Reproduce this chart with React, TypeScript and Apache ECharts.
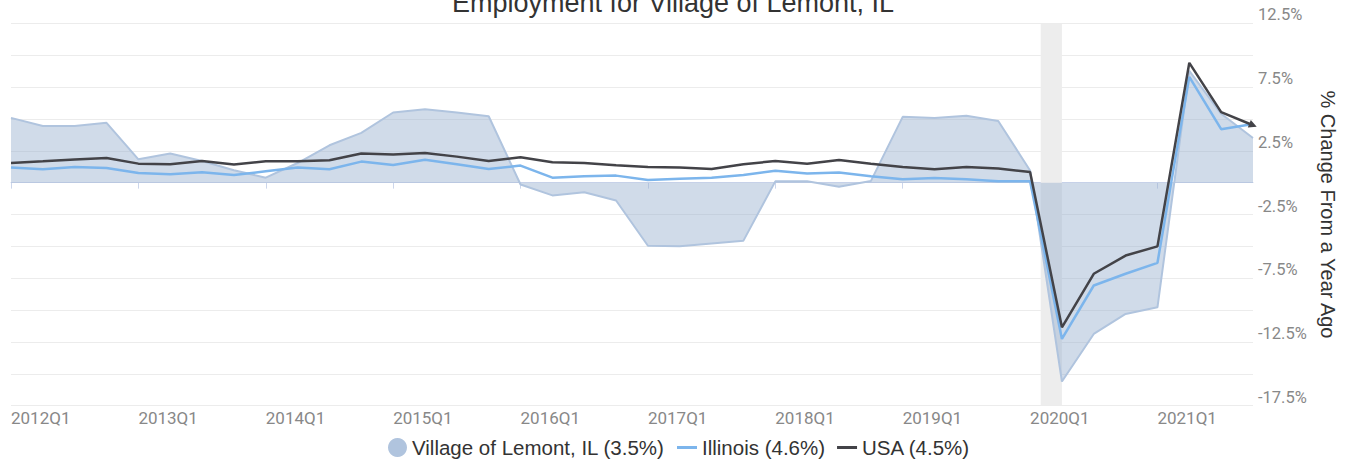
import React, { useEffect, useRef } from 'react';
import * as echarts from 'echarts';

const quarters: string[] = [
  '2012Q1', '2012Q2', '2012Q3', '2012Q4',
  '2013Q1', '2013Q2', '2013Q3', '2013Q4',
  '2014Q1', '2014Q2', '2014Q3', '2014Q4',
  '2015Q1', '2015Q2', '2015Q3', '2015Q4',
  '2016Q1', '2016Q2', '2016Q3', '2016Q4',
  '2017Q1', '2017Q2', '2017Q3', '2017Q4',
  '2018Q1', '2018Q2', '2018Q3', '2018Q4',
  '2019Q1', '2019Q2', '2019Q3', '2019Q4',
  '2020Q1', '2020Q2', '2020Q3', '2020Q4',
  '2021Q1', '2021Q2', '2021Q3', '2021Q4',
];

const lemont: number[] = [
  5.08, 4.45, 4.45, 4.69,
  1.83, 2.28, 1.70, 0.97,
  0.39, 1.54, 2.93, 3.90,
  5.50, 5.76, 5.50, 5.21,
  -0.15, -1.0, -0.75, -1.4,
  -4.95, -5.0, -4.77, -4.55,
  0.1, 0.1, -0.32, 0.12,
  5.16, 5.08, 5.24, 4.84,
  0.95, -15.6, -11.87, -10.3,
  -9.78, 8.77, 5.4, 3.5,
];

const illinois: number[] = [
  1.18, 1.05, 1.23, 1.15,
  0.75, 0.65, 0.81, 0.60,
  0.89, 1.18, 1.05, 1.65,
  1.38, 1.79, 1.44, 1.07,
  1.34, 0.39, 0.50, 0.55,
  0.20, 0.31, 0.39, 0.60,
  0.94, 0.71, 0.79, 0.50,
  0.26, 0.36, 0.26, 0.10,
  0.10, -12.26, -8.07, -7.15,
  -6.29, 8.30, 4.19, 4.6,
];

const usa: number[] = [
  1.54, 1.67, 1.81, 1.93,
  1.49, 1.44, 1.70, 1.42,
  1.67, 1.67, 1.75, 2.28,
  2.20, 2.33, 2.04, 1.70,
  1.99, 1.60, 1.54, 1.36,
  1.23, 1.18, 1.07, 1.44,
  1.70, 1.49, 1.78, 1.49,
  1.23, 1.05, 1.23, 1.10,
  0.83, -11.35, -7.15, -5.72,
  -5.0, 9.40, 5.53, 4.5,
];

const seriesNames = ['Village of Lemont, IL (3.5%)', 'Illinois (4.6%)', 'USA (4.5%)'];
const yLabelValues: number[] = [12.5, 7.5, 2.5, -2.5, -7.5, -12.5, -17.5];
const recession: string[] = ['2020-02', '2020-04'];

const monthToIndex = (m: string) => {
  const [y, mo] = m.split('-').map(Number);
  return (y - 2012) * 4 + (mo - 1) / 3;
};

export default function App() {
  const ref = useRef<HTMLDivElement>(null);
  useEffect(() => {
    if (!ref.current) return;
    const chart = echarts.init(ref.current, undefined, { renderer: 'svg' });
    const last = usa.length - 1;
    const usaData = usa.map((v, i) =>
      i === last ? { value: v, symbolSize: 8, symbolRotate: -112 } : v
    );
    const legendText = { fontFamily: 'Liberation Sans', fontSize: 20.5, color: '#333' };
    const option: any = {
      animation: false,
      title: {
        text: 'Employment for Village of Lemont, IL',
        left: 'center',
        top: -16,
        textStyle: { fontFamily: 'Liberation Sans', fontSize: 27, fontWeight: 'normal', color: '#333' },
      },
      grid: { left: 11, right: 93, top: 23.3, bottom: 58.3, outerBoundsMode: 'none', containLabel: false },
      xAxis: [
        {
          type: 'category',
          data: quarters,
          boundaryGap: false,
          axisLine: { lineStyle: { color: '#ccd6eb', width: 1 } },
          axisTick: { interval: 3, length: 6, lineStyle: { color: '#ccd6eb' } },
          axisLabel: { interval: 3, align: 'left', margin: 4, color: '#888', fontSize: 17, fontFamily: 'Roboto' },
          splitLine: { show: false },
        },
        { type: 'value', min: 0, max: quarters.length - 1, show: false },
      ],
      yAxis: {
        type: 'value',
        position: 'right',
        min: -17.5,
        max: 12.5,
        interval: 2.5,
        splitLine: { lineStyle: { color: '#ececec' } },
        axisLine: { show: false },
        axisTick: { show: false },
        axisLabel: {
          formatter: (v: number) => (yLabelValues.some((t) => Math.abs(t - v) < 1e-6) ? `${v}%` : ''),
          margin: 5,
          color: '#888',
          fontSize: 16.5,
          fontFamily: 'Roboto',
          verticalAlign: 'bottom',
          align: 'left',
        },
        name: '% Change From a Year Ago',
        nameLocation: 'middle',
        nameRotate: -90,
        nameGap: 65,
        nameTextStyle: { fontFamily: 'Liberation Sans', fontSize: 20, color: '#333' },
      },
      legend: [
        {
          left: 383,
          top: 432,
          data: [{ name: seriesNames[0], icon: 'circle' }],
          itemWidth: 19,
          itemHeight: 19,
          textStyle: legendText,
        },
        {
          left: 672,
          top: 432,
          data: [
            { name: seriesNames[1], icon: 'rect' },
            { name: seriesNames[2], icon: 'rect' },
          ],
          itemWidth: 20,
          itemHeight: 3,
          itemGap: 12,
          textStyle: legendText,
        },
      ],
      series: [
        {
          name: 'recession',
          type: 'line',
          xAxisIndex: 1,
          data: [],
          markArea: {
            silent: true,
            itemStyle: { color: '#ededed' },
            data: [[{ xAxis: monthToIndex(recession[0]) }, { xAxis: monthToIndex(recession[1]) }]],
          },
        },
        {
          name: seriesNames[0],
          type: 'line',
          data: lemont,
          symbol: 'none',
          itemStyle: { color: '#b0c4de' },
          lineStyle: { width: 2, color: '#b0c4de' },
          areaStyle: { color: 'rgba(150,175,205,0.64)', origin: 'auto' },
        },
        {
          name: seriesNames[1],
          type: 'line',
          data: illinois,
          symbol: 'none',
          itemStyle: { color: '#7cb5ec' },
          lineStyle: { width: 2.5, color: '#7cb5ec' },
        },
        {
          name: seriesNames[2],
          type: 'line',
          data: usaData,
          symbol: 'triangle',
          symbolSize: 0,
          showSymbol: true,
          showAllSymbol: true,
          itemStyle: { color: '#434348' },
          lineStyle: { width: 2.5, color: '#434348' },
        },
      ],
    };
    chart.setOption(option);
    return () => chart.dispose();
  }, []);
  return <div ref={ref} style={{ position: 'absolute', left: 0, top: 0, width: 1346, height: 464 }} />;
}
